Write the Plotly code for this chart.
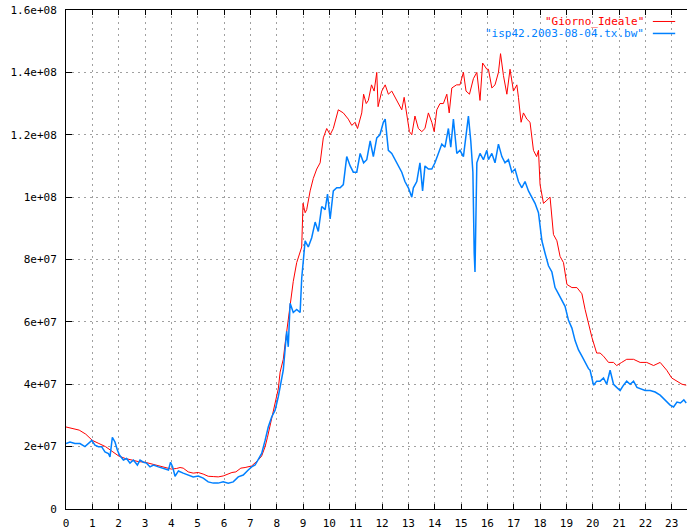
import plotly.graph_objects as go

# Hours of day and values (units of 1e7)
red_hours = [0.0,0.25,0.5,0.75,1.0,1.25,1.5,1.75,2.0,2.25,2.5,2.75,3.0,3.25,3.5,3.75,4.0,4.2,4.33,4.45,4.64,4.83,5.02,5.21,5.4,5.59,5.78,5.97,6.16,6.3,6.45,6.64,6.8,6.92,7.05,7.18,7.3,7.43,7.56,7.65,7.75,7.85,7.94,8.06,8.13,8.25,8.32,8.44,8.5,8.63,8.76,8.89,8.95,9.0,9.08,9.14,9.27,9.39,9.52,9.65,9.77,9.9,10.03,10.15,10.34,10.53,10.72,10.85,10.98,11.07,11.23,11.3,11.4,11.48,11.6,11.7,11.8,11.85,11.92,11.99,12.12,12.24,12.37,12.5,12.62,12.75,12.84,12.94,13.04,13.13,13.25,13.38,13.51,13.63,13.76,13.89,13.98,14.08,14.2,14.33,14.46,14.55,14.65,14.83,14.96,15.09,15.19,15.32,15.47,15.6,15.72,15.82,15.98,16.04,16.17,16.29,16.42,16.5,16.61,16.74,16.86,16.99,17.12,17.18,17.28,17.37,17.5,17.62,17.75,17.87,17.94,18.0,18.13,18.26,18.38,18.51,18.64,18.76,18.89,19.02,19.21,19.4,19.59,19.71,19.84,19.97,20.15,20.28,20.41,20.6,20.79,20.91,21.1,21.29,21.55,21.8,22.05,22.31,22.56,22.81,23.0,23.2,23.39,23.55]
red_values = [2.63,2.58,2.53,2.4,2.2,2.1,2.0,1.85,1.7,1.62,1.57,1.52,1.5,1.44,1.38,1.33,1.28,1.3,1.33,1.31,1.19,1.15,1.17,1.12,1.05,1.04,1.03,1.06,1.13,1.17,1.19,1.31,1.33,1.35,1.38,1.48,1.57,1.7,2.0,2.3,2.7,3.1,3.4,3.85,4.39,4.8,5.3,6.1,6.6,7.3,7.9,8.2,8.4,9.8,9.5,9.6,10.2,10.6,10.9,11.1,11.9,12.2,12.0,12.2,12.8,12.7,12.5,12.3,12.4,12.2,12.7,13.3,13.0,13.1,13.6,13.4,14.0,12.9,13.2,13.4,13.6,13.3,13.4,13.2,13.0,12.8,13.2,12.6,12.1,12.0,12.6,12.2,12.1,12.2,12.7,12.4,12.1,12.8,13.0,13.0,13.3,12.7,13.5,13.6,13.6,14.0,13.4,13.3,13.8,14.0,13.1,14.3,14.1,14.1,13.5,13.6,14.0,14.6,13.9,13.3,14.1,13.4,13.6,13.2,12.4,12.7,12.5,12.4,11.5,11.3,11.5,10.4,9.8,9.9,10.0,8.8,8.6,8.1,7.9,7.2,7.1,7.1,6.9,6.4,5.9,5.5,5.0,5.0,4.9,4.7,4.7,4.6,4.7,4.8,4.8,4.7,4.7,4.6,4.7,4.45,4.2,4.1,4.0,3.97]

blue_hours = [0.0,0.15,0.34,0.53,0.72,0.85,0.98,1.1,1.23,1.35,1.48,1.61,1.67,1.76,1.86,1.95,2.03,2.18,2.3,2.43,2.56,2.71,2.81,2.94,3.06,3.19,3.32,3.51,3.7,3.89,3.97,4.05,4.14,4.27,4.45,4.64,4.83,5.02,5.21,5.4,5.59,5.78,5.97,6.16,6.35,6.54,6.73,6.92,7.05,7.18,7.3,7.43,7.56,7.68,7.81,7.94,8.06,8.25,8.38,8.44,8.51,8.63,8.76,8.89,8.95,9.08,9.2,9.33,9.46,9.58,9.71,9.84,9.93,10.03,10.15,10.28,10.41,10.53,10.66,10.79,10.91,11.04,11.17,11.3,11.42,11.55,11.67,11.8,11.92,12.05,12.12,12.24,12.37,12.5,12.62,12.75,12.87,13.0,13.13,13.19,13.32,13.44,13.54,13.63,13.76,13.89,14.01,14.14,14.27,14.39,14.52,14.61,14.71,14.84,14.96,15.09,15.19,15.28,15.37,15.45,15.5,15.53,15.6,15.72,15.85,15.98,16.04,16.17,16.29,16.42,16.55,16.67,16.8,16.93,17.05,17.18,17.31,17.43,17.56,17.69,17.81,17.94,18.07,18.19,18.32,18.45,18.57,18.7,18.83,18.95,19.08,19.21,19.33,19.46,19.59,19.71,19.84,19.9,20.03,20.15,20.28,20.41,20.53,20.66,20.79,20.91,21.04,21.17,21.29,21.42,21.55,21.68,21.8,21.99,22.18,22.37,22.56,22.75,22.94,23.07,23.2,23.33,23.46,23.55]
blue_values = [2.1,2.15,2.1,2.1,2.0,2.1,2.2,2.05,2.0,2.0,1.83,1.78,1.67,2.3,2.15,1.89,1.73,1.57,1.62,1.47,1.57,1.41,1.57,1.5,1.47,1.35,1.41,1.35,1.31,1.25,1.5,1.35,1.05,1.22,1.15,1.09,1.03,1.06,0.99,0.87,0.83,0.83,0.87,0.83,0.87,1.03,1.09,1.25,1.35,1.41,1.57,1.78,2.2,2.63,2.95,3.17,3.6,4.45,5.7,5.2,6.6,6.3,6.4,6.3,7.4,8.6,8.4,8.7,9.2,8.9,9.7,9.6,10.1,9.3,10.2,10.3,10.3,10.4,11.3,11.0,10.8,10.8,11.4,11.1,11.2,11.8,11.3,11.9,12.0,12.4,12.5,11.5,11.4,11.2,11.0,10.8,10.5,10.3,10.0,10.3,10.5,11.1,10.2,11.0,10.9,10.9,11.1,11.4,11.7,11.6,12.2,11.6,12.5,11.4,11.5,11.3,11.9,12.6,11.8,10.8,8.2,7.6,11.1,11.4,11.2,11.5,11.2,11.4,11.1,11.7,11.3,11.1,11.2,10.8,10.9,10.5,10.3,10.5,10.2,10.0,9.8,9.5,8.6,8.2,7.8,7.6,7.1,6.9,6.7,6.5,6.05,5.8,5.4,5.1,4.9,4.7,4.5,4.45,3.97,4.1,4.1,4.2,4.0,4.45,4.0,3.9,3.8,3.97,4.1,4.0,4.1,3.9,3.87,3.8,3.8,3.75,3.65,3.5,3.33,3.27,3.43,3.4,3.5,3.4]

series_names = ['"Giorno_Ideale"', '"isp42.2003-08-04.tx.bw"']
series_colors = ["#ff0000", "#0080ff"]
x_ticks = list(range(0, 24))
y_ticks = [0, 2e7, 4e7, 6e7, 8e7, 1e8, 1.2e8, 1.4e8, 1.6e8]
y_tick_labels = ["0", "2e+07", "4e+07", "6e+07", "8e+07", "1e+08", "1.2e+08", "1.4e+08", "1.6e+08"]

SCALE = 1e7
fig = go.Figure()
fig.add_trace(go.Scatter(x=red_hours, y=[v * SCALE for v in red_values], mode="lines",
                         line=dict(color=series_colors[0], width=1), name=series_names[0], showlegend=False))
fig.add_trace(go.Scatter(x=blue_hours, y=[v * SCALE for v in blue_values], mode="lines",
                         line=dict(color=series_colors[1], width=1.5), name=series_names[1], showlegend=False))

FONT = "DejaVu Sans Mono"
# legend as text + line samples (gnuplot style: text left of sample)
leg_y = [0.977, 0.953]
for i in range(2):
    fig.add_annotation(x=0.932, y=leg_y[i], xref="paper", yref="paper", text=series_names[i],
                       showarrow=False, xanchor="right", yanchor="middle", borderpad=0,
                       font=dict(family=FONT, size=11, color=series_colors[i]))
    fig.add_shape(type="line", xref="paper", yref="paper", x0=0.945, x1=0.981, y0=leg_y[i], y1=leg_y[i],
                  line=dict(color=series_colors[i], width=1.5 if i else 1))

grid_dash = "2px,4px"
fig.update_layout(
    width=687, height=529,
    margin=dict(l=66, r=0, t=10, b=20, autoexpand=False),
    paper_bgcolor="white", plot_bgcolor="white",
    font=dict(family=FONT, size=11, color="#000000"),
    hovermode=False,
    xaxis=dict(range=[0, 23.58], tickvals=x_ticks, ticktext=[str(t) for t in x_ticks],
               showline=True, linecolor="black", linewidth=1, mirror="ticks",
               ticks="inside", ticklen=5, tickcolor="black",
               showgrid=True, gridcolor="#a0a0a0", griddash=grid_dash, gridwidth=1,
               zeroline=False, ticklabelstandoff=4, automargin=False, fixedrange=True,
               ticklabeloverflow="allow"),
    yaxis=dict(range=[0, 1.6e8], tickvals=y_ticks, ticktext=y_tick_labels,
               showline=True, linecolor="black", linewidth=1, mirror=False,
               ticks="inside", ticklen=6, tickcolor="black",
               showgrid=True, gridcolor="#a0a0a0", griddash=grid_dash, gridwidth=1,
               zeroline=False, ticklabelstandoff=6, automargin=False, fixedrange=True,
               ticklabeloverflow="allow"),
)
fig.write_html("out.html", config={"displayModeBar": False},
               post_script="document.body.style.margin='0px';document.body.style.overflow='hidden';")
